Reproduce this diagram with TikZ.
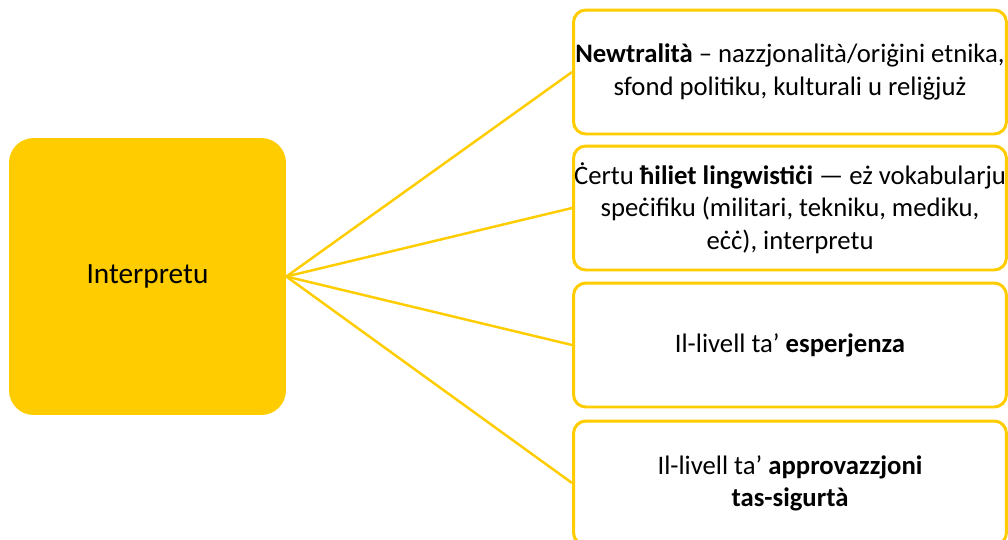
\documentclass[tikz,border=0pt]{standalone}
\usepackage{fontspec}
\setmainfont{Carlito}
\definecolor{amber}{HTML}{FFCC00}
\begin{document}
\begin{tikzpicture}[x=0.02cm,y=-0.02cm,
      hub/.style={rectangle,rounded corners=14pt,fill=amber,minimum width=5.54cm,
        minimum height=5.54cm,font=\fontsize{16.7}{20}\selectfont},
      item/.style={rectangle,rounded corners=7pt,draw=amber,line width=1.7pt,fill=white,
        inner xsep=0pt,minimum width=8.66cm,minimum height=2.48cm,align=center,
        font=\fontsize{15.2}{18.4}\selectfont},
      link/.style={amber,line width=1.4pt} ]
      \clip (0,0) rectangle (1008,539);
      \useasboundingbox (0,0) rectangle (1008,539);

      % main box
      \node[hub] (hub) at (147.5,276.5) {Interpretu};

      % boxes
      \node[item] (neutral) at (790,72) {\textbf{Newtralità} – nazzjonalità/oriġini etnika,\\ sfond politiku, kulturali u reliġjuż};
      \node[item] (skills) at (790,208) {Ċertu \textbf{ħiliet lingwistiċi} — eż vokabularju\\ speċifiku (militari, tekniku, mediku,\\ eċċ), interpretu};
      \node[item] (experience) at (790,345) {Il-livell ta’ \textbf{esperjenza}};
      \node[item] (clearance) at (790,483) {Il-livell ta’ \textbf{approvazzjoni}\\ \textbf{tas-sigurtà}};

      % links
      \draw [link] (hub.east) -- (neutral.west);
      \draw [link] (hub.east) -- (skills.west);
      \draw [link] (hub.east) -- (experience.west);
      \draw [link] (hub.east) -- (clearance.west);
\end{tikzpicture}
\end{document}
